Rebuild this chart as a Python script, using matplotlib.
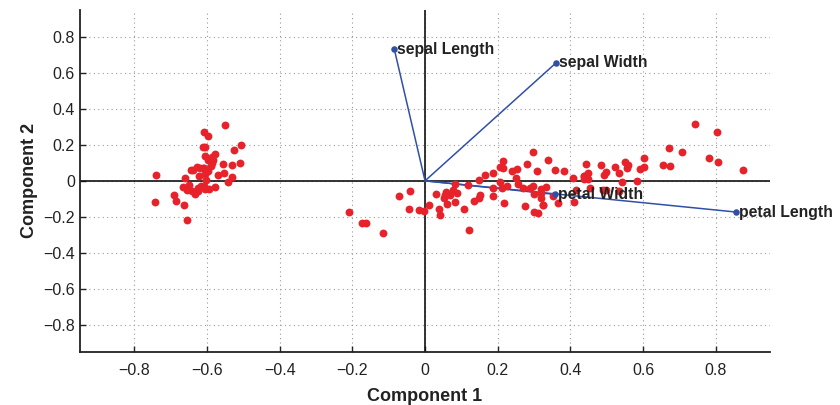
import matplotlib
matplotlib.use("Agg")
import matplotlib.pyplot as plt
import numpy as np

plt.rcParams['font.family'] = ['Liberation Sans', 'DejaVu Sans']

# Variable loadings (component 1, component 2) and their labels
var_labels = ["sepal Length", "sepal Width", "petal Length", "petal Width"]
load_c1 = [-0.0845, 0.3614, 0.8567, 0.3583]
load_c2 = [0.7302, 0.6566, -0.1734, -0.0755]

# Observation scores on components 1 and 2
score_c1 = [
    -2.684, -2.714, -2.889, -2.745, -2.729, -2.281, -2.821, -2.626, -2.886, -2.673,
    -2.507, -2.613, -2.786, -3.224, -2.645, -2.386, -2.624, -2.648, -2.200, -2.588,
    -2.310, -2.544, -3.216, -2.303, -2.356, -2.507, -2.469, -2.562, -2.640, -2.632,
    -2.587, -2.410, -2.649, -2.599, -2.637, -2.866, -2.625, -2.801, -2.981, -2.590,
    -2.770, -2.849, -2.997, -2.406, -2.209, -2.714, -2.538, -2.839, -2.543, -2.703,
    1.285, 0.932, 1.464, 0.183, 1.088, 0.642, 1.095, -0.749, 1.044, -0.009,
    -0.508, 0.512, 0.265, 0.985, -0.174, 0.928, 0.660, 0.236, 0.945, 0.045,
    1.116, 0.358, 1.298, 0.922, 0.715, 0.900, 1.332, 1.558, 0.813, -0.306,
    -0.068, -0.190, 0.136, 1.380, 0.588, 0.807, 1.221, 0.815, 0.246, 0.166,
    0.465, 0.891, 0.231, -0.705, 0.357, 0.332, 0.376, 0.643, -0.906, 0.299,
    2.531, 1.415, 2.617, 1.972, 2.350, 3.397, 0.521, 2.933, 2.321, 2.917,
    1.662, 1.803, 2.166, 1.346, 1.586, 1.904, 1.950, 3.487, 3.796, 1.301,
    2.428, 1.199, 3.500, 1.389, 2.275, 2.614, 1.259, 1.291, 2.124, 2.388,
    2.842, 3.231, 2.159, 1.444, 1.781, 3.076, 2.144, 1.905, 1.169, 2.108,
    2.314, 1.922, 1.415, 2.563, 2.419, 1.944, 1.527, 1.764, 1.901, 1.390,
]
score_c2 = [
    0.319, -0.177, -0.145, -0.318, 0.327, 0.741, -0.089, 0.163, -0.578, -0.114,
    0.645, 0.015, -0.235, -0.511, 1.179, 1.338, 0.811, 0.312, 0.873, 0.514,
    0.391, 0.433, 0.133, 0.099, -0.037, -0.146, 0.131, 0.368, 0.312, -0.197,
    -0.204, 0.411, 0.813, 1.093, -0.121, 0.069, 0.599, 0.269, -0.488, 0.229,
    0.264, -0.941, -0.342, 0.189, 0.437, -0.250, 0.504, -0.228, 0.579, 0.108,
    0.685, 0.318, 0.504, -0.828, 0.075, -0.418, 0.283, -1.005, 0.228, -0.723,
    -1.266, -0.104, -0.550, -0.125, -0.255, 0.467, -0.353, -0.334, -0.543, -0.584,
    -0.085, -0.069, -0.328, -0.183, 0.149, 0.329, 0.244, 0.267, -0.163, -0.368,
    -0.705, -0.680, -0.314, -0.421, -0.484, 0.194, 0.408, -0.372, -0.269, -0.682,
    -0.671, -0.034, -0.404, -1.012, -0.505, -0.213, -0.293, 0.018, -0.756, -0.349,
    -0.010, -0.575, 0.344, -0.180, -0.040, 0.551, -1.193, 0.356, -0.244, 0.783,
    0.242, -0.216, 0.216, -0.777, -0.540, 0.119, 0.042, 1.176, 0.257, -0.761,
    0.378, -0.606, 0.461, -0.204, 0.335, 0.561, -0.180, -0.117, -0.210, 0.465,
    0.375, 1.374, -0.217, -0.143, -0.500, 0.688, 0.140, 0.049, -0.165, 0.372,
    0.184, 0.409, -0.575, 0.278, 0.305, 0.188, -0.375, 0.079, 0.117, -0.283,
]

tick_vals = [-0.8, -0.6, -0.4, -0.2, 0, 0.2, 0.4, 0.6, 0.8]
tick_labels = ["\u22120.8", "\u22120.6", "\u22120.4", "\u22120.2", "0",
               "0.2", "0.4", "0.6", "0.8"]

lc1 = np.array(load_c1)
lc2 = np.array(load_c2)
s1 = np.array(score_c1)
s2 = np.array(score_c2)

# Biplot scaling: scores shrunk so the farthest one sits at the longest loading length
max_len = np.sqrt((lc1 ** 2 + lc2 ** 2).max())
max_score = np.abs(np.concatenate([s1, s2])).max()
scale = max_len / max_score

fig = plt.figure(figsize=(8.4, 4.05), dpi=100)
ax = fig.add_axes([0.095, 0.131, 0.822, 0.845])

ax.set_xlim(-0.95, 0.95)
ax.set_ylim(-0.95, 0.95)

ax.grid(True, color="#9a9a9a", linestyle=(0, (1, 3)), linewidth=0.8)
ax.set_axisbelow(True)

ax.axhline(0, color="#111111", linewidth=1.2, zorder=2)
ax.axvline(0, color="#111111", linewidth=1.2, zorder=2)

blue = "#3050a8"
for x, y in zip(lc1, lc2):
    ax.plot([0, x], [0, y], color=blue, linewidth=1.1, zorder=3)
ax.scatter(lc1, lc2, s=22, color=blue, zorder=5, linewidths=0)

ax.scatter(s1 * scale, s2 * scale, s=32, color="#e8222a", zorder=4, linewidths=0)

for x, y, t in zip(lc1, lc2, var_labels):
    ax.text(x + 0.008, y, t, fontsize=11.3, fontweight="bold", color="#222222",
            va="center", ha="left", zorder=6, clip_on=False)

ax.set_xticks(tick_vals)
ax.set_xticklabels(tick_labels)
ax.set_yticks(tick_vals)
ax.set_yticklabels(tick_labels)
ax.tick_params(direction="in", length=4, width=1, labelsize=11.5, colors="#222222")
ax.tick_params(axis="x", pad=8)

for side in ("top", "right"):
    ax.spines[side].set_visible(False)
for side in ("left", "bottom"):
    ax.spines[side].set_linewidth(1.3)
    ax.spines[side].set_color("#222222")

ax.set_xlabel("Component 1", fontsize=13, fontweight="bold", labelpad=7, color="#222222")
ax.set_ylabel("Component 2", fontsize=13, fontweight="bold", labelpad=4, color="#222222")

fig.savefig("out.png", dpi=100)
